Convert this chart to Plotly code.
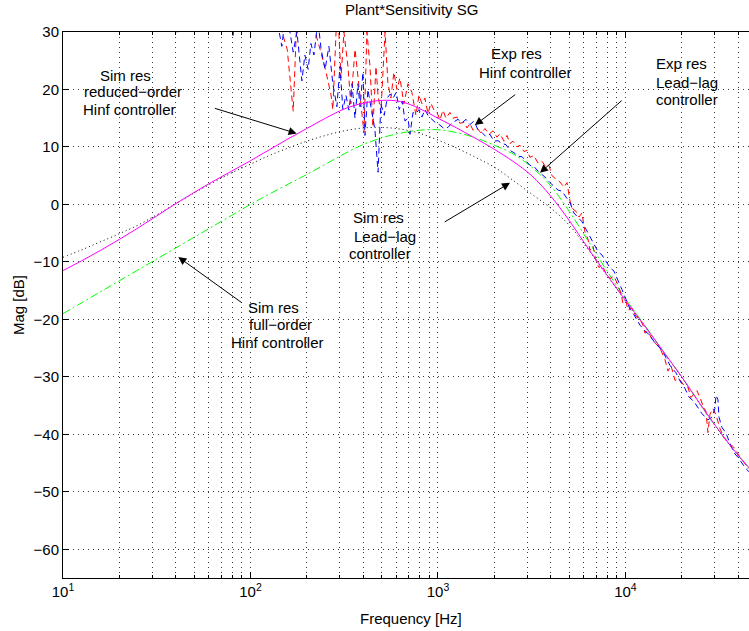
import math
import plotly.graph_objects as go

# ---------------- data ----------------
# simulated responses (Hz, dB)
sim_freq = [10, 12.59, 15.85, 19.95, 25.12, 31.62, 39.81, 50.12, 63.10, 79.43,
            100, 125.9, 158.5, 199.5, 251.2, 316.2, 398.1, 501.2, 631.0, 794.3,
            1000, 1259, 1585, 1995, 2512, 3162, 3981, 5012, 6310, 7943,
            10000, 12589, 15849, 19953, 25119, 31623, 39811, 45600]

sim_reduced_hinf_db = [-11.5, -9.8, -8.0, -6.1, -4.1, -2.0, 0.1, 2.1, 4.0, 5.8,
                       7.6, 9.5, 11.4, 13.2, 15.0, 16.6, 17.6, 18.1, 17.9, 16.7,
                       15.0, 13.3, 11.5, 9.6, 7.5, 5.0, 1.5, -2.8, -7.6, -12.2,
                       -16.7, -21.0, -25.5, -30.0, -34.8, -39.4, -43.6, -45.8]

sim_full_hinf_db = [-19.0, -17.1, -15.2, -13.3, -11.4, -9.5, -7.6, -5.7, -3.8, -1.9,
                    0.0, 1.8, 3.5, 5.2, 7.0, 8.8, 10.4, 11.6, 12.4, 12.9,
                    13.0, 12.5, 11.6, 10.3, 8.8, 6.5, 3.3, -1.2, -6.3, -11.5,
                    -16.4, -20.9, -25.5, -30.0, -34.8, -39.4, -43.6, -45.9]

sim_leadlag_db = [-9.2, -7.9, -6.5, -5.1, -3.6, -1.8, 0.1, 2.0, 3.8, 5.5,
                  7.0, 8.5, 9.8, 11.0, 12.0, 12.8, 13.3, 13.4, 13.1, 12.4,
                  11.2, 9.8, 8.2, 6.5, 4.2, 1.8, -0.6, -3.6, -7.8, -12.3,
                  -16.8, -21.1, -25.6, -30.1, -34.9, -39.5, -43.7, -45.9]

# experimental responses (Hz, dB)
exp_hinf_freq = [10, 29.1, 40.6, 43.1, 87.8, 127, 144, 157, 169, 177, 195, 213, 235, 253, 269,
                 275, 286, 293, 304, 315, 331, 343, 361, 374, 389, 403, 418, 434, 450, 467,
                 479, 496, 522, 541, 561, 582, 604, 627, 658, 692, 726, 763, 792, 822, 852,
                 884, 917, 952, 988, 1025, 1063, 1103, 1159, 1202, 1263, 1310, 1377, 1428, 1481, 1537,
                 1615, 1697, 1782, 1872, 1965, 2064, 2141, 2250, 2334, 2421, 2512, 2639, 2738, 2875, 2984,
                 3094, 3251, 3415, 3587, 3767, 3908, 4055, 4260, 4475, 4702, 4878, 5060, 5248, 5445, 5648,
                 5860, 6080, 6310, 6466, 6709, 6960, 7222, 7493, 7870, 8266, 8683, 9120, 9462, 9698, 10060,
                 10310, 10830, 11370, 11950, 12400, 12710, 13190, 13850, 14550, 15280, 16240, 16860, 17490, 17930, 18370,
                 19530, 20520, 21540, 22350, 23190, 24060, 24960, 25900, 26880, 27540, 28240, 29290, 30390, 31930, 33540,
                 35240, 36560, 38410, 40800, 42860, 45020]
exp_hinf_db = [42, 36, 29.7, 38, 40, 38, 31, 27, 16.2, 33, 35, 32, 27, 23, 19,
               16.5, 30, 33, 22, 30, 24, 17.5, 27, 22, 17, 12.5, 30, 24, 13.5, 24,
               19, 16, 30, 21, 18.5, 23, 20, 22, 17.5, 21, 19.5, 15.5, 19, 17.5, 18.5,
               15.8, 17.6, 16.4, 16.0, 14.7, 16.4, 15.0, 16.0, 15.0, 15.2, 14.1, 14.3, 13.3, 14.1, 12.9,
               13.3, 12.4, 13.2, 12.2, 12.8, 11.7, 12.3, 11.0, 12.0, 10.6, 11.0, 10.0, 10.3, 9.2, 9.4,
               8.2, 8.5, 7.2, 7.5, 6.5, 6.8, 5.0, 4.4, 3.9, 3.0, 3.8, 0.6, -0.8, -1.2, -2.2,
               -1.5, -4.8, -6.0, -8.0, -7.2, -9.8, -11.0, -10.5, -12.0, -12.9, -12.5, -14.0, -15.5, -17.2, -16.8,
               -18.4, -18.0, -19.5, -20.0, -21.0, -22.4, -22.0, -23.5, -24.3, -25.0, -27.0, -29.0, -28.0, -29.6, -30.6,
               -30.5, -31.5, -31.8, -33.6, -33.0, -32.4, -33.6, -35.0, -36.0, -39.7, -36.5, -35.5, -36.6, -39.0, -40.6,
               -41.2, -41.8, -42.5, -44.0, -44.8, -46.0]

exp_leadlag_freq = [10, 29.1, 73.1, 80.7, 85.8, 135, 147, 155, 169, 177, 184, 188, 195, 203, 210,
                    218, 229, 238, 250, 262, 275, 289, 300, 311, 323, 335, 348, 361, 374, 384,
                    398, 408, 423, 445, 461, 479, 496, 517, 536, 556, 577, 599, 621, 645, 667,
                    692, 709, 736, 763, 792, 822, 852, 884, 929, 964, 1025, 1076, 1131, 1188, 1279,
                    1343, 1411, 1481, 1556, 1634, 1717, 1803, 1894, 1989, 2089, 2195, 2305, 2421, 2543, 2671,
                    2806, 2947, 3094, 3251, 3415, 3587, 3767, 3957, 4155, 4365, 4585, 4816, 5060, 5312, 5580,
                    5860, 6155, 6466, 6791, 7134, 7493, 7870, 8266, 8683, 9120, 9580, 10060, 10570, 11100, 11950,
                    12710, 13510, 14360, 15280, 16040, 17270, 18600, 19530, 20760, 21800, 23190, 24360, 25590, 27540, 28920,
                    30020, 30390, 31150, 31530, 32720, 34380, 36110, 37920, 39810, 41820, 43920, 45580]
exp_leadlag_db = [45, 38, 38, 29.4, 37, 34, 27.5, 34, 26.5, 30, 24.5, 21.5, 26, 23.5, 28,
                  26, 32, 27, 23.5, 27.5, 21, 17, 24, 16.5, 19, 16.4, 21, 15, 21, 17,
                  23, 12, 20, 16, 13, 5.6, 17.5, 15.5, 18.5, 19.2, 18.5, 19.5, 16.5, 18, 14.5,
                  15, 12.2, 16, 15.8, 16.5, 15.2, 16.5, 15.5, 14.8, 14.3, 13.8, 13.2, 13.4, 14.2, 14.8,
                  14.2, 14.8, 13.9, 14.5, 13.0, 12.5, 11.8, 12.2, 11.0, 11.1, 10.6, 10.4, 9.4, 9.0, 8.4,
                  8.3, 7.6, 6.8, 6.6, 5.8, 5.2, 4.6, 3.8, 3.2, 2.5, 2.3, 1.2, 0.3, -1.5, -2.2,
                  -3.0, -4.3, -5.6, -6.9, -8.2, -8.8, -10.0, -11.0, -11.6, -13.1, -14.8, -16.5, -18.2, -19.2, -21.0,
                  -22.0, -22.8, -24.1, -25.0, -26.0, -28.0, -29.3, -30.7, -32.0, -33.5, -34.3, -35.3, -36.4, -37.5, -37.0,
                  -35.5, -33.2, -34.0, -37.0, -38.8, -39.8, -41.6, -43.2, -44.0, -45.0, -46.0, -46.5]

# axis ticks
x_major = [10, 100, 1000, 10000]
x_major_text = ["10<sup>1</sup>", "10<sup>2</sup>", "10<sup>3</sup>", "10<sup>4</sup>"]
x_minor = [m * d for d in [10, 100, 1000, 10000] for m in range(2, 10)]
y_ticks = [-60, -50, -40, -30, -20, -10, 0, 10, 20, 30]
x_range_hz = [10, 45600]
y_range_db = [-65, 30]

FONT = "Liberation Sans, Arial, Helvetica, sans-serif"
GRID = "#3a3a3a"
GRIDDASH = "1px,4px"

fig = go.Figure()
fig.add_trace(go.Scatter(x=sim_freq, y=sim_leadlag_db, mode="lines", line_shape="spline",
                         line=dict(color="black", width=1, dash="1px,3px")))
fig.add_trace(go.Scatter(x=sim_freq, y=sim_full_hinf_db, mode="lines", line_shape="spline",
                         line=dict(color="#00ff00", width=1, dash="8px,3px,2px,3px")))
fig.add_trace(go.Scatter(x=exp_hinf_freq, y=exp_hinf_db, mode="lines",
                         line=dict(color="#ff0000", width=1, dash="6px,4px")))
fig.add_trace(go.Scatter(x=exp_leadlag_freq, y=exp_leadlag_db, mode="lines",
                         line=dict(color="#0000ff", width=1, dash="6px,4px")))
fig.add_trace(go.Scatter(x=sim_freq, y=sim_reduced_hinf_db, mode="lines", line_shape="spline",
                         line=dict(color="#ff00ff", width=1)))

# text labels (each line positioned separately, data coordinates; x in log10 Hz)
labels = [
    ("Sim res", 1.336, 22.5, "center"),
    ("reduced\u2212order", 1.373, 19.6, "center"),
    ("Hinf controller", 1.356, 16.6, "center"),
    ("Exp res", 3.419, 26.3, "center"),
    ("Hinf controller", 3.469, 23.0, "center"),
    ("Exp res", 4.150, 24.6, "left"),
    ("Lead\u2212lag", 4.150, 21.3, "left"),
    ("controller", 4.150, 18.3, "left"),
    ("Sim res", 2.685, -2.3, "center"),
    ("Lead\u2212lag", 2.716, -5.5, "center"),
    ("controller", 2.691, -8.55, "center"),
    ("Sim res", 2.122, -17.9, "center"),
    ("full\u2212order", 2.160, -20.9, "center"),
    ("Hinf controller", 2.146, -24.0, "center"),
]
# arrows: (tip_x, tip_y, tail_x, tail_y)
arrows = [
    (2.246, 12.35, 1.802, 16.8),
    (3.197, 13.8, 3.420, 19.3),
    (3.544, 5.5, 3.988, 18.3),
    (3.384, 3.75, 3.028, -3.2),
    (1.615, -9.15, 1.962, -17.3),
]

annotations = []
for txt, lx, ly, anchor in labels:
    annotations.append(dict(text=txt, x=lx, y=ly, xref="x", yref="y", showarrow=False,
                            xanchor=anchor, yanchor="middle",
                            font=dict(family=FONT, size=15, color="black")))
for tx, ty, sx, sy in arrows:
    annotations.append(dict(text="", x=tx, y=ty, ax=sx, ay=sy, xref="x", yref="y",
                            axref="x", ayref="y", showarrow=True, arrowhead=2,
                            arrowsize=1.6, arrowwidth=1, arrowcolor="black", standoff=0,
                            startstandoff=0))
# title, axis titles
annotations.append(dict(text="Plant*Sensitivity SG", x=0.5073, y=1.0403, xref="paper", yref="paper",
                        showarrow=False, xanchor="center", yanchor="middle",
                        font=dict(family=FONT, size=15, color="black")))
annotations.append(dict(text="Frequency [Hz]", x=0.5073, y=-0.0733, xref="paper", yref="paper",
                        showarrow=False, xanchor="center", yanchor="middle",
                        font=dict(family=FONT, size=15, color="black")))
annotations.append(dict(text="Mag [dB]", x=-0.0656, y=0.5, xref="paper", yref="paper",
                        showarrow=False, xanchor="center", yanchor="middle", textangle=-90,
                        font=dict(family=FONT, size=15, color="black")))

fig.update_layout(
    width=749, height=631,
    margin=dict(l=63, r=0, t=32, b=53),
    paper_bgcolor="white", plot_bgcolor="white",
    showlegend=False,
    font=dict(family=FONT, size=15, color="black"),
    annotations=annotations,
    xaxis=dict(type="log", range=[math.log10(x_range_hz[0]), math.log10(x_range_hz[1])],
               tickmode="array", tickvals=x_major, ticktext=x_major_text,
               ticks="inside", ticklen=6, tickcolor="black", tickwidth=1,
               showline=True, linecolor="black", linewidth=1, mirror="allticks",
               showgrid=True, gridcolor=GRID, gridwidth=1, griddash=GRIDDASH,
               zeroline=False,
               tickfont=dict(family=FONT, size=15, color="black"),
               minor=dict(tickmode="array", tickvals=x_minor, ticks="inside", ticklen=3,
                          tickcolor="black", showgrid=True, gridcolor=GRID, gridwidth=1,
                          griddash=GRIDDASH)),
    yaxis=dict(range=y_range_db, tickmode="array", tickvals=y_ticks,
               ticks="inside", ticklen=6, tickcolor="black", tickwidth=1,
               showline=True, linecolor="black", linewidth=1, mirror=False,
               showgrid=True, gridcolor=GRID, gridwidth=1, griddash=GRIDDASH,
               zeroline=False,
               tickfont=dict(family=FONT, size=15, color="black")),
)

# remove the browser's default 8 px page margin so the figure fills the window exactly
fig.write_html("out.html", config={"displayModeBar": False},
               post_script="document.body.style.margin='0px';")
